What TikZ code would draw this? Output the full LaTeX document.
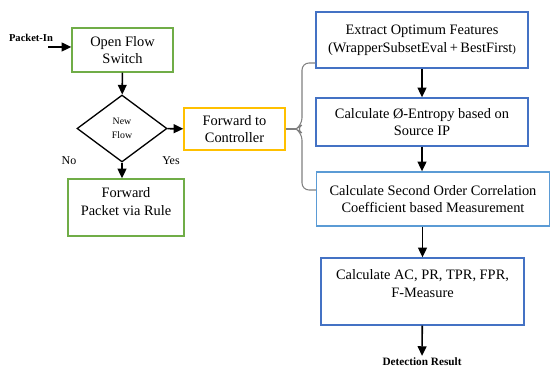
\documentclass[tikz,border=0pt]{standalone}
\usepackage{fontspec}
\setmainfont{Liberation Serif}
\usetikzlibrary{arrows.meta,calc,positioning,shapes.geometric}
\definecolor{boxGreen}{HTML}{70AD47}
\definecolor{boxGold}{HTML}{FFC000}
\definecolor{boxBlue}{HTML}{4472C4}
\definecolor{boxSky}{HTML}{5B9BD5}
\tikzset{
  flowBox/.style={draw, line width=0.75pt, align=center, font=\fontsize{8.2}{10}\selectfont, inner sep=2pt},
  flowDecision/.style={draw, diamond, line width=0.75pt, align=center, font=\fontsize{5.6}{7.6}\selectfont, inner sep=0pt, minimum width=1.8cm, minimum height=1.34cm},
  flowArrow/.style={-{Triangle[length=5.5pt,width=5pt]}, line width=0.9pt},
  flowBracket/.style={draw=gray, line width=0.6pt, rounded corners=4pt},
  flowLabel/.style={font=\fontsize{6.8}{8}\selectfont, inner sep=1pt},
  flowTerm/.style={font=\fontsize{6}{7}\selectfont\bfseries, inner sep=1pt}
}
\begin{document}
\begin{tikzpicture}[x=0.02cm, y=-0.02cm]
      \useasboundingbox (0,0) rectangle (550,367);
      % switch side
      \node[flowTerm] (packetin) at (31,38) {Packet-In};
      \node[flowBox, draw=boxGreen, minimum width=2.02cm, minimum height=0.88cm] (switch) at (122.5,50) {Open Flow\\Switch};
      \node[flowDecision] (newflow) at (122,128.5) {New\\Flow};
      \node[flowBox, draw=boxGold, minimum width=2.02cm, minimum height=0.84cm] (controller) at (234.5,129) {Forward to\\Controller};
      \node[flowBox, draw=boxGreen, minimum width=2.32cm, minimum height=1.14cm] (rule) at (126,207.5) {Forward\\Packet via Rule\\[-3pt]};
      \node[flowLabel] (nolabel) at (69,161) {No};
      \node[flowLabel] (yeslabel) at (171,161) {Yes};
      \coordinate (inStart) at (48,47);
      \draw[flowArrow] (inStart) -- (switch.west |- inStart);
      \draw[flowArrow] (switch) -- (newflow);
      \draw[flowArrow] (newflow) -- (controller);
      \draw[flowArrow] (newflow.south) -- (rule.north -| newflow.south);

      % controller side
      \node[flowBox, draw=boxBlue, minimum width=4.24cm, minimum height=1.12cm] (extract) at (422,40) {Extract Optimum Features\\(WrapperSubsetEval\,+\,BestFirst{\fontsize{6}{7}\selectfont)}};
      \node[flowBox, draw=boxBlue, minimum width=4.24cm, minimum height=0.96cm] (entropy) at (422,122) {Calculate \O-Entropy based on\\Source IP};
      \node[flowBox, draw=boxSky, minimum width=4.66cm, minimum height=1.08cm] (correlation) at (433,199) {Calculate Second Order Correlation\\Coefficient based Measurement};
      \node[flowBox, draw=boxBlue, minimum width=4.06cm, minimum height=1.34cm] (measure) at (422.5,291.5) {Calculate AC, PR, TPR, FPR,\\F-Measure\\[-1pt]};
      \node[flowTerm, font=\fontsize{6.4}{7}\selectfont\bfseries] (result) at (422,362) {Detection Result};
      \draw[flowArrow] (extract) -- (entropy);
      \draw[flowArrow] (entropy) -- (correlation.north -| entropy.south);
      \draw[flowArrow] (correlation.south -| measure.north) -- (measure);
      \draw[flowArrow] (measure) -- (result);

      % bracket from controller to the three steps
      \draw[flowBracket] (extract.west |- 0,63) -- (302,63) -- (302,125) -- (296,129) -- (302,133) -- (302,190) -- (correlation.west |- 0,190);
      \draw[draw=gray, line width=0.6pt] (controller.east) -- (296,129);
    \end{tikzpicture}
\end{document}
